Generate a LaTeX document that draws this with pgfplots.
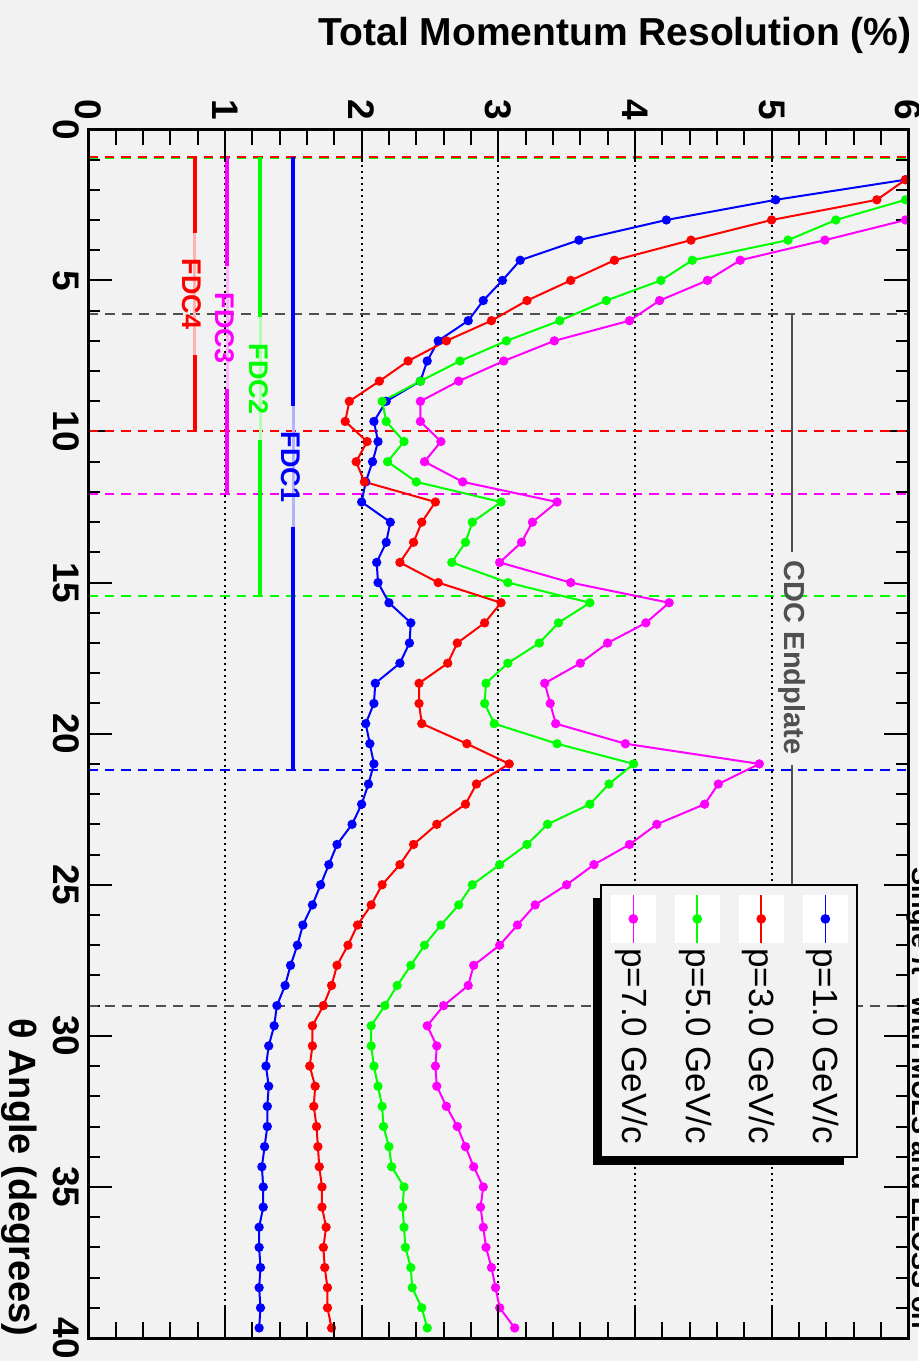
\documentclass[border=0pt]{standalone}
\usepackage{pgfplots}
\usepackage{pgfplotstable}
\pgfplotsset{compat=1.18}
\usepackage{fontspec}
\setmainfont{Liberation Sans}
\definecolor{bg}{RGB}{242,242,242}
\definecolor{dgray}{RGB}{80,80,80}
\definecolor{mgreen}{RGB}{0,255,0}
\definecolor{mblue}{RGB}{0,0,255}
\definecolor{mred}{RGB}{255,0,0}
\definecolor{mmag}{RGB}{255,0,255}
\newcommand{\tickfont}{\fontsize{18.5}{18.5}\selectfont\bfseries}
\newcommand{\fdcfont}{\fontsize{13.5}{13.5}\selectfont\bfseries}
\newcommand{\legfont}{\fontsize{17.5}{17.5}\selectfont}
\pgfplotstableread{
ang p1 p3 p5 p7
1.667 5.98 5.98 nan nan
2.333 5.03 5.77 5.98 nan
3.000 4.23 5.00 5.47 5.98
3.667 3.59 4.41 5.12 5.39
4.333 3.16 3.85 4.42 4.77
5.000 3.03 3.53 4.19 4.53
5.667 2.89 3.21 3.79 4.18
6.333 2.78 2.95 3.45 3.96
7.000 2.56 2.62 3.06 3.41
7.667 2.48 2.34 2.72 3.04
8.333 2.43 2.13 2.43 2.71
9.000 2.18 1.91 2.15 2.43
9.667 2.09 1.88 2.18 2.43
10.333 2.12 2.04 2.31 2.58
11.000 2.08 1.96 2.19 2.46
11.667 2.03 2.02 2.40 2.74
12.333 2.00 2.54 3.02 3.43
13.000 2.21 2.44 2.81 3.25
13.667 2.18 2.38 2.76 3.17
14.333 2.11 2.28 2.66 3.01
15.000 2.12 2.56 3.07 3.53
15.667 2.20 3.02 3.67 4.25
16.333 2.36 2.90 3.44 4.08
17.000 2.35 2.70 3.30 3.80
17.667 2.28 2.63 3.07 3.60
18.333 2.10 2.42 2.91 3.34
19.000 2.09 2.42 2.90 3.38
19.667 2.03 2.44 2.97 3.42
20.333 2.06 2.77 3.43 3.93
21.000 2.09 3.08 3.99 4.91
21.667 2.05 2.84 3.81 4.61
22.333 2.00 2.76 3.67 4.51
23.000 1.93 2.55 3.36 4.16
23.667 1.82 2.38 3.21 3.96
24.333 1.76 2.28 3.01 3.70
25.000 1.70 2.15 2.81 3.50
25.667 1.64 2.07 2.71 3.27
26.333 1.57 1.97 2.58 3.14
27.000 1.53 1.90 2.46 3.01
27.667 1.48 1.82 2.36 2.82
28.333 1.44 1.78 2.26 2.78
29.000 1.38 1.72 2.17 2.60
29.667 1.36 1.64 2.07 2.48
30.333 1.32 1.64 2.07 2.55
31.000 1.30 1.62 2.09 2.54
31.667 1.32 1.66 2.12 2.55
32.333 1.31 1.65 2.15 2.62
33.000 1.31 1.67 2.16 2.70
33.667 1.29 1.68 2.20 2.76
34.333 1.27 1.69 2.22 2.82
35.000 1.28 1.71 2.31 2.89
35.667 1.28 1.71 2.30 2.87
36.333 1.25 1.74 2.31 2.89
37.000 1.25 1.72 2.32 2.91
37.667 1.26 1.73 2.36 2.95
38.333 1.25 1.75 2.37 2.98
39.000 1.26 1.75 2.44 3.01
39.667 1.25 1.78 2.48 3.12
}\datatab
\begin{document}
\begin{tikzpicture}
\path[use as bounding box] (0pt,0pt) rectangle (459pt,-680.5pt);
\fill[bg] (0pt,0pt) rectangle (459pt,-680.5pt);
\begin{axis}[
  at={(44.15pt,-64.65pt)}, anchor=north west,
  scale only axis, width=410pt, height=604.35pt,
  xmin=0, xmax=6, ymin=0, ymax=40, y dir=reverse,
  clip=false,
  axis line style={black, line width=1.5pt},
  xtick={0,1,2,3,4,5,6}, xtick style={draw=none},
  xticklabel pos=upper,
  xmajorgrids, major x grid style={black, line width=0.9pt, dash pattern=on 1pt off 2pt},
  ytick={0,5,...,40}, minor y tick num=4,
  major tick length=12pt, minor tick length=6pt,
  ytick style={black, line width=1pt},
  tick align=inside,
  /pgf/number format/assume math mode=true,
  xticklabel style={rotate=-90, anchor=east, inner sep=4.6pt, font=\tickfont},
  yticklabel style={rotate=-90, anchor=north, inner sep=4.5pt, font=\tickfont},
]
% boundary lines
\draw[mgreen, line width=1pt, dash pattern=on 4.75pt off 3.5pt] (axis cs:0,0.95) -- (axis cs:6,0.95);
\draw[mred, line width=1pt, dash pattern=on 4.75pt off 3.5pt] (axis cs:0,0.90) -- (axis cs:6,0.90);
\draw[dgray, line width=1pt, dash pattern=on 5pt off 3.5pt] (axis cs:0,6.1) -- (axis cs:6,6.1);
\draw[mred, line width=1pt, dash pattern=on 4.75pt off 3.5pt] (axis cs:0,10) -- (axis cs:6,10);
\draw[mmag, line width=1pt, dash pattern=on 4.75pt off 3.5pt] (axis cs:0,12.07) -- (axis cs:6,12.07);
\draw[mgreen, line width=1pt, dash pattern=on 4.75pt off 3.5pt] (axis cs:0,15.43) -- (axis cs:6,15.43);
\draw[mblue, line width=1pt, dash pattern=on 4.75pt off 3.5pt] (axis cs:0,21.19) -- (axis cs:6,21.19);
\draw[dgray, line width=1pt, dash pattern=on 5pt off 3.5pt] (axis cs:0,29.0) -- (axis cs:6,29.0);
% FDC lines
\draw[mred, line width=2pt] (axis cs:0.78,0.91) -- (axis cs:0.78,3.43) (axis cs:0.78,7.47) -- (axis cs:0.78,10);
\draw[mred!30, line width=1.5pt] (axis cs:0.78,3.43) -- (axis cs:0.78,7.47);
\node[rotate=-90, text=mred, font=\fdcfont] at (axis cs:0.76,5.45) {FDC4};
\draw[mmag, line width=2pt] (axis cs:1.015,0.91) -- (axis cs:1.015,4.53) (axis cs:1.015,8.58) -- (axis cs:1.015,12.07);
\draw[mmag!30, line width=1.5pt] (axis cs:1.015,4.53) -- (axis cs:1.015,8.58);
\node[rotate=-90, text=mmag, font=\fdcfont] at (axis cs:1.0,6.57) {FDC3};
\draw[mgreen, line width=2pt] (axis cs:1.26,0.91) -- (axis cs:1.26,6.2) (axis cs:1.26,10.29) -- (axis cs:1.26,15.43);
\draw[mgreen!30, line width=1.5pt] (axis cs:1.26,6.2) -- (axis cs:1.26,10.29);
\node[rotate=-90, text=mgreen, font=\fdcfont] at (axis cs:1.25,8.27) {FDC2};
\draw[mblue, line width=2pt] (axis cs:1.50,0.91) -- (axis cs:1.50,9.15) (axis cs:1.50,13.16) -- (axis cs:1.50,21.19);
\draw[mblue!30, line width=1.5pt] (axis cs:1.50,9.15) -- (axis cs:1.50,13.16);
\node[rotate=-90, text=mblue, font=\fdcfont] at (axis cs:1.48,11.17) {FDC1};
% CDC endplate
\draw[dgray, line width=1.2pt] (axis cs:5.15,6.1) -- (axis cs:5.15,14.0) (axis cs:5.15,21.05) -- (axis cs:5.15,29.0);
\node[rotate=-90, text=dgray, font=\fontsize{14.5}{14.5}\selectfont\bfseries] at (axis cs:5.15,17.48) {CDC Endplate};
% data
\addplot[mblue, line width=1pt, mark=*, mark size=1.8pt] table[x=p1, y=ang]{\datatab};
\addplot[mred, line width=1pt, mark=*, mark size=1.8pt] table[x=p3, y=ang]{\datatab};
\addplot[mgreen, line width=1pt, mark=*, mark size=1.8pt] table[x=p5, y=ang]{\datatab};
\addplot[mmag, line width=1pt, mark=*, mark size=1.8pt] table[x=p7, y=ang]{\datatab};
% legend
\fill[black] (axis cs:3.691,25.44) rectangle (axis cs:3.751,34.27);
\fill[black] (axis cs:3.691,34.0) rectangle (axis cs:5.529,34.27);
\filldraw[fill=bg, draw=black, line width=1pt] (axis cs:3.749,25.01) rectangle (axis cs:5.627,34.01);
\fill[white] (axis cs:5.228,25.34) rectangle (axis cs:5.558,26.92);
\fill[white] (axis cs:4.759,25.34) rectangle (axis cs:5.089,26.92);
\fill[white] (axis cs:4.291,25.34) rectangle (axis cs:4.621,26.92);
\fill[white] (axis cs:3.823,25.34) rectangle (axis cs:4.153,26.92);
\addplot[mblue, line width=0.8pt, mark=*, mark size=2pt, mark indices={2}] coordinates {(5.393,25.34) (5.393,26.13) (5.393,26.92)};
\addplot[mred, line width=0.8pt, mark=*, mark size=2pt, mark indices={2}] coordinates {(4.924,25.34) (4.924,26.13) (4.924,26.92)};
\addplot[mgreen, line width=0.8pt, mark=*, mark size=2pt, mark indices={2}] coordinates {(4.456,25.34) (4.456,26.13) (4.456,26.92)};
\addplot[mmag, line width=0.8pt, mark=*, mark size=2pt, mark indices={2}] coordinates {(3.988,25.34) (3.988,26.13) (3.988,26.92)};
\node[rotate=-90, anchor=base west, inner sep=0pt, font=\legfont] at (axis cs:5.31,27.09) {p=1.0 GeV/c};
\node[rotate=-90, anchor=base west, inner sep=0pt, font=\legfont] at (axis cs:4.84,27.09) {p=3.0 GeV/c};
\node[rotate=-90, anchor=base west, inner sep=0pt, font=\legfont] at (axis cs:4.374,27.09) {p=5.0 GeV/c};
\node[rotate=-90, anchor=base west, inner sep=0pt, font=\legfont] at (axis cs:3.906,27.09) {p=7.0 GeV/c};
\end{axis}
\begin{axis}[
  at={(44.15pt,-64.65pt)}, anchor=north west,
  scale only axis, width=410pt, height=604.35pt,
  xmin=0, xmax=6, ymin=0, ymax=40, y dir=reverse,
  axis line style={black, line width=1.5pt},
  xtick={0,1,2,3,4,5,6}, minor x tick num=4, ytick=\empty,
  xticklabel style={opacity=0, text opacity=0},
  major tick length=16.5pt, minor tick length=8pt,
  xtick style={black, line width=1pt}, tick align=inside,
]
\end{axis}
\node[anchor=base east, inner sep=0pt, font=\fontsize{19.5}{19.5}\selectfont\bfseries] at (456pt,-22.5pt) {Total Momentum Resolution (\%)};
\node[rotate=-90, anchor=base east, inner sep=0pt, font=\fontsize{19}{19}\selectfont\bfseries] at (5pt,-668.5pt) {θ Angle (degrees)};
\node[rotate=-90, anchor=base west, inner sep=0pt, font=\fontsize{13.5}{13.5}\selectfont\bfseries] at (456pt,-433.5pt) {Single π\textsuperscript{−} with MULS and ELOSS on};
\end{tikzpicture}
\end{document}
